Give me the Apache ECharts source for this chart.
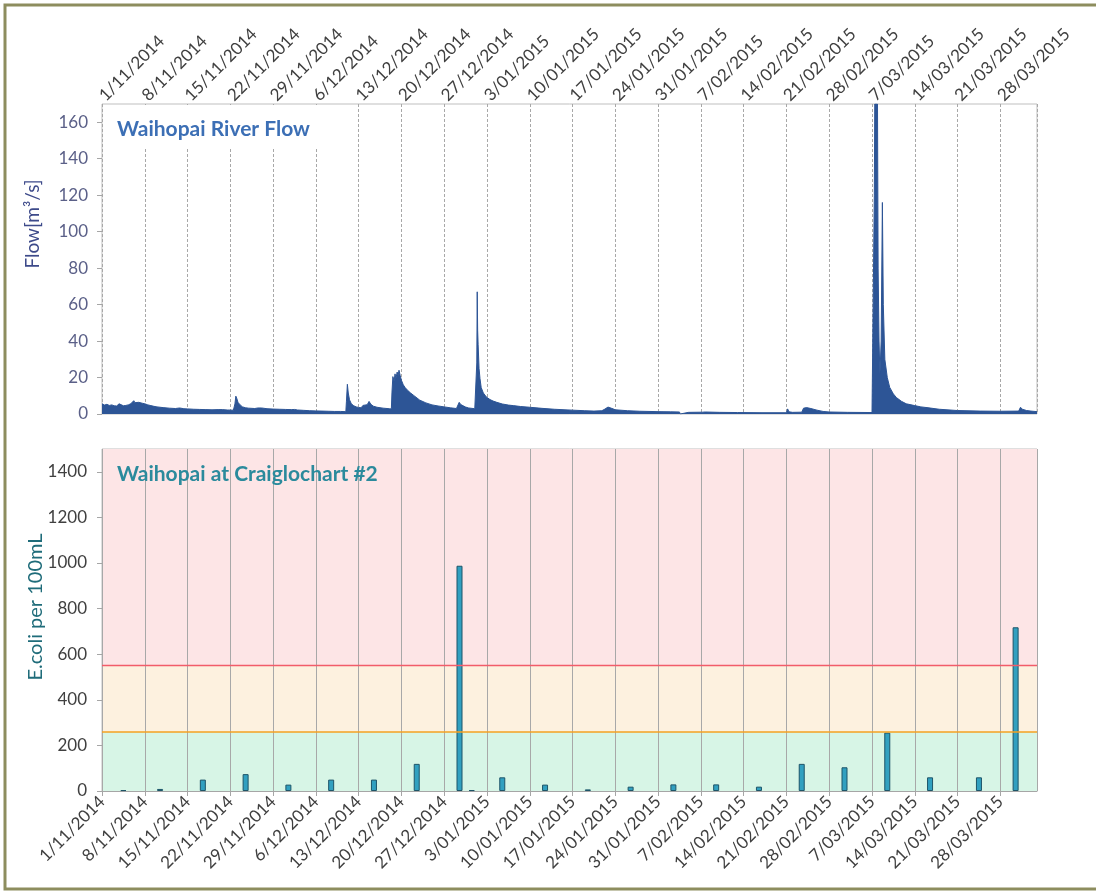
<!DOCTYPE html>
<html><head><meta charset="utf-8">
<script src="https://cdn.jsdelivr.net/npm/echarts@6/dist/echarts.min.js"></script>
<style>html,body{margin:0;padding:0;background:#fff}#c{width:1096px;height:893px}</style>
</head><body><div id="c"></div><script>
// Weekly tick labels (every 7 days from 1/11/2014)
const weekLabels = ['1/11/2014','8/11/2014','15/11/2014','22/11/2014','29/11/2014','6/12/2014','13/12/2014','20/12/2014','27/12/2014','3/01/2015','10/01/2015','17/01/2015','24/01/2015','31/01/2015','7/02/2015','14/02/2015','21/02/2015','28/02/2015','7/03/2015','14/03/2015','21/03/2015','28/03/2015'];

// River flow: time in days since 1/11/2014 00:00, flow in m3/s
const flowDay = [0,0.4,0.8,1.2,1.6,2.0,2.4,2.8,3.1,3.5,3.9,4.3,4.7,5.0,5.2,5.4,5.7,6.0,6.3,6.6,7.0,7.5,8.0,8.5,9.0,10.0,11.0,12.0,12.7,13.4,14.0,15.0,16.0,17.0,18.0,19.0,19.3,19.7,20.5,21.5,21.75,21.9,22.05,22.25,22.6,23.0,23.5,24.0,25.0,25.5,25.8,26.1,27.0,28.0,29.0,30.0,31.0,31.5,32.0,33.0,34.0,35.0,36.0,37.0,38.0,39.0,39.9,40.0,40.15,40.3,40.5,40.8,41.2,41.6,42.0,42.4,42.7,43.0,43.4,43.7,44.0,44.4,45.0,46.0,47.0,47.35,47.45,47.6,47.8,47.95,48.1,48.3,48.45,48.6,48.8,49.0,49.3,49.6,50.0,50.5,51.0,52.0,53.0,54.0,55.0,56.0,57.0,58.0,58.3,58.45,58.7,59.1,59.5,60.0,61.0,61.25,61.33,61.4,61.47,61.55,61.7,61.85,62.05,62.4,62.9,63.5,64.0,64.6,65.5,66.5,67.3,68.5,70.0,72.0,74.0,77.0,79.0,80.5,81.8,82.3,82.8,83.1,83.4,84.0,86.0,88.0,91.0,93.0,94.5,94.6,94.8,94.9,96.0,98.3,98.5,98.7,101.0,104.0,108.0,112.0,112.2,112.4,113.0,114.5,114.8,115.3,116.0,117.0,118.0,119.0,122.0,126.0,126.3,126.38,126.45,126.9,127.0,127.15,127.3,127.5,127.7,127.85,128.1,128.5,128.9,129.5,130.0,130.8,131.6,133.0,134.0,135.0,137.0,140.0,143.7,147.0,150.0,150.3,150.6,151.3,152.0,153.0];
const flowValue = [5.6,4.9,5.3,4.7,5.0,4.5,4.4,5.6,4.9,4.5,4.7,5.0,5.6,6.2,7.3,6.2,5.7,6.4,6.6,5.9,5.6,5.0,4.6,4.2,3.9,3.5,3.2,3.0,3.3,2.9,2.8,2.6,2.5,2.4,2.3,2.4,2.9,2.4,2.2,2.1,5.5,9.8,8.6,6.4,5.0,3.9,3.4,3.2,3.0,3.3,4.1,3.3,2.9,2.7,2.6,2.5,2.4,2.5,2.2,2.0,1.8,1.7,1.6,1.5,1.4,1.4,1.3,7.0,16.3,11.5,7.8,5.6,4.5,3.9,3.6,3.4,4.7,4.1,5.1,6.9,5.3,4.3,3.7,3.2,2.9,2.8,12.0,20.5,18.0,22.0,19.5,23.0,21.0,24.0,21.0,18.5,16.0,14.5,13.0,11.5,10.2,7.6,6.1,5.0,4.4,3.9,3.4,3.0,3.2,6.4,5.2,4.5,3.8,3.3,2.9,3.2,28,67,46,38,25,19.5,14.5,11.5,9.3,7.9,7.1,6.4,5.5,4.9,4.6,4.1,3.7,3.1,2.6,2.1,1.8,1.6,1.8,2.7,3.8,4.3,3.1,2.3,1.8,1.5,1.3,1.2,1.1,0,0,1.0,0.9,1.0,1.7,1.1,0.9,0.8,0.7,0.7,2.8,1.2,0.9,1.0,3.2,3.5,3.0,2.1,1.4,1.1,0.9,0.8,1.0,120,170,170,80,40,22,40,116,60,30,20,14.6,11,9.0,7.0,5.6,4.6,3.9,3.5,2.6,1.9,1.6,1.5,1.6,3.7,2.6,1.9,1.6,1.3];

// E.coli samples (per 100mL)
const sampleDates = ['2014-11-04','2014-11-10','2014-11-17','2014-11-24','2014-12-01','2014-12-08','2014-12-15','2014-12-22','2014-12-29','2014-12-31','2015-01-05','2015-01-12','2015-01-19','2015-01-26','2015-02-02','2015-02-09','2015-02-16','2015-02-23','2015-03-02','2015-03-09','2015-03-16','2015-03-24','2015-03-30'];
const ecoliValues = [4,9,50,74,28,50,50,119,988,4,60,28,7,19,29,29,19,119,104,256,60,60,718];

// Guideline levels
const alertLevel = 260;
const actionLevel = 550;
const ecoliMax = 1500;
const flowMax = 170;

const DAY = 86400000, START = Date.UTC(2014, 10, 1);
function dayIndex(s){ const p = s.split('-').map(Number); return (Date.UTC(p[0], p[1]-1, p[2]) - START) / DAY; }
const FONT = 'Lato, "Open Sans", sans-serif';
const labelFmt = v => { const i = Math.round(v / 7); return (Math.abs(v - i*7) < 1e-6 && weekLabels[i]) ? weekLabels[i] : ''; };

const chart = echarts.init(document.getElementById('c'), null, {renderer: 'canvas'});
const xCommon = { type: 'value', min: 0, max: 153, interval: 7 };
chart.setOption({
  animation: false,
  backgroundColor: '#fff',
  title: [
    { text: 'Waihopai River Flow', left: 103, top: 105, padding: [12, 24, 7, 14], backgroundColor: '#fff',
      textStyle: { fontFamily: FONT, fontSize: 21, fontWeight: 'bold', color: '#3c6fb5', lineHeight: 24 } },
    { text: 'Waihopai at Craiglochart #2', left: 103, top: 462, padding: [0, 0, 0, 14],
      textStyle: { fontFamily: FONT, fontSize: 21, fontWeight: 'bold', color: '#2b8a9c', lineHeight: 24 } }
  ],
  grid: [
    { left: 102, top: 104, width: 935, height: 310, show: true, borderColor: '#bfbfbf', borderWidth: 1, backgroundColor: '#fff' },
    { left: 102, top: 449, width: 935, height: 342, show: true, borderColor: '#bfbfbf', borderWidth: 1 }
  ],
  xAxis: [
    Object.assign({}, xCommon, { gridIndex: 0, position: 'top',
      axisLine: { show: false }, axisTick: { show: false },
      axisLabel: { rotate: 45, margin: 6, fontSize: 17, fontFamily: FONT, color: '#404040', formatter: labelFmt, showMaxLabel: false },
      splitLine: { show: true, lineStyle: { color: '#a8a8a8', width: 1, type: [3, 2] } } }),
    Object.assign({}, xCommon, { gridIndex: 1, position: 'bottom', z: 2,
      axisLine: { show: true, lineStyle: { color: '#a6a6a6' } },
      axisTick: { show: true, length: 5, lineStyle: { color: '#a6a6a6' } },
      axisLabel: { rotate: 45, margin: 8, fontSize: 17, fontFamily: FONT, color: '#404040', formatter: labelFmt, showMaxLabel: false },
      splitLine: { show: true, lineStyle: { color: '#a8a8a8', width: 1 } } })
  ],
  yAxis: [
    { type: 'value', gridIndex: 0, min: 0, max: flowMax, interval: 20,
      axisLine: { show: false }, axisTick: { show: true, length: 5, lineStyle: { color: '#a6a6a6' } },
      axisLabel: { margin: 14, fontSize: 17, fontFamily: FONT, color: '#5b6088', showMaxLabel: false },
      splitLine: { show: false } },
    { type: 'value', gridIndex: 1, min: 0, max: ecoliMax, interval: 200,
      axisLine: { show: false }, axisTick: { show: true, length: 5, lineStyle: { color: '#a6a6a6' } },
      axisLabel: { margin: 15, fontSize: 17, fontFamily: FONT, color: '#404040', showMaxLabel: false, formatter: v => String(v) },
      splitLine: { show: false } }
  ],
  series: [
    { type: 'line', xAxisIndex: 0, yAxisIndex: 0, symbol: 'none',
      data: flowDay.map((d, i) => [d, flowValue[i]]),
      lineStyle: { width: 1, color: '#2d5596' }, itemStyle: { color: '#2d5596' },
      areaStyle: { color: '#2d5596', opacity: 1 } },
    { type: 'bar', xAxisIndex: 1, yAxisIndex: 1, barWidth: 6, z: 3,
      data: sampleDates.map((s, i) => [dayIndex(s) + 0.5, ecoliValues[i]]),
      itemStyle: { color: '#31a0c0', borderColor: '#1d5468', borderWidth: 1 },
      markArea: { silent: true, z: 1, data: [
        [{ yAxis: 0, itemStyle: { color: '#d7f5e6', borderWidth: 0 } }, { yAxis: alertLevel }],
        [{ yAxis: alertLevel, itemStyle: { color: '#fdf1df', borderWidth: 0 } }, { yAxis: actionLevel }],
        [{ yAxis: actionLevel, itemStyle: { color: '#fde5e6', borderWidth: 0 } }, { yAxis: ecoliMax }]
      ] },
      markLine: { silent: true, z: 6, symbol: 'none', label: { show: false }, data: [
        { yAxis: actionLevel, lineStyle: { color: '#f25c6a', width: 1.3, type: 'solid', opacity: 1 } },
        { yAxis: alertLevel, lineStyle: { color: '#f5a020', width: 1.5, type: 'solid', opacity: 1 } }
      ] } }
  ],
  graphic: [
    { type: 'rect', silent: true, shape: { x: 5, y: 5, width: 1100, height: 884 }, style: { fill: 'none', stroke: '#8d8d5e', lineWidth: 3 } },
    { type: 'text', silent: true, x: 33, y: 224, rotation: Math.PI / 2,
      style: { text: 'Flow[m³/s]', font: '19px ' + FONT, fill: '#3d4a8a', align: 'center', verticalAlign: 'middle', textAlign: 'center', textVerticalAlign: 'middle' } },
    { type: 'text', silent: true, x: 36, y: 607, rotation: Math.PI / 2,
      style: { text: 'E.coli per 100mL', font: '20px ' + FONT, fill: '#1f6c7a', align: 'center', verticalAlign: 'middle', textAlign: 'center', textVerticalAlign: 'middle' } }
  ]
});
</script></body></html>
